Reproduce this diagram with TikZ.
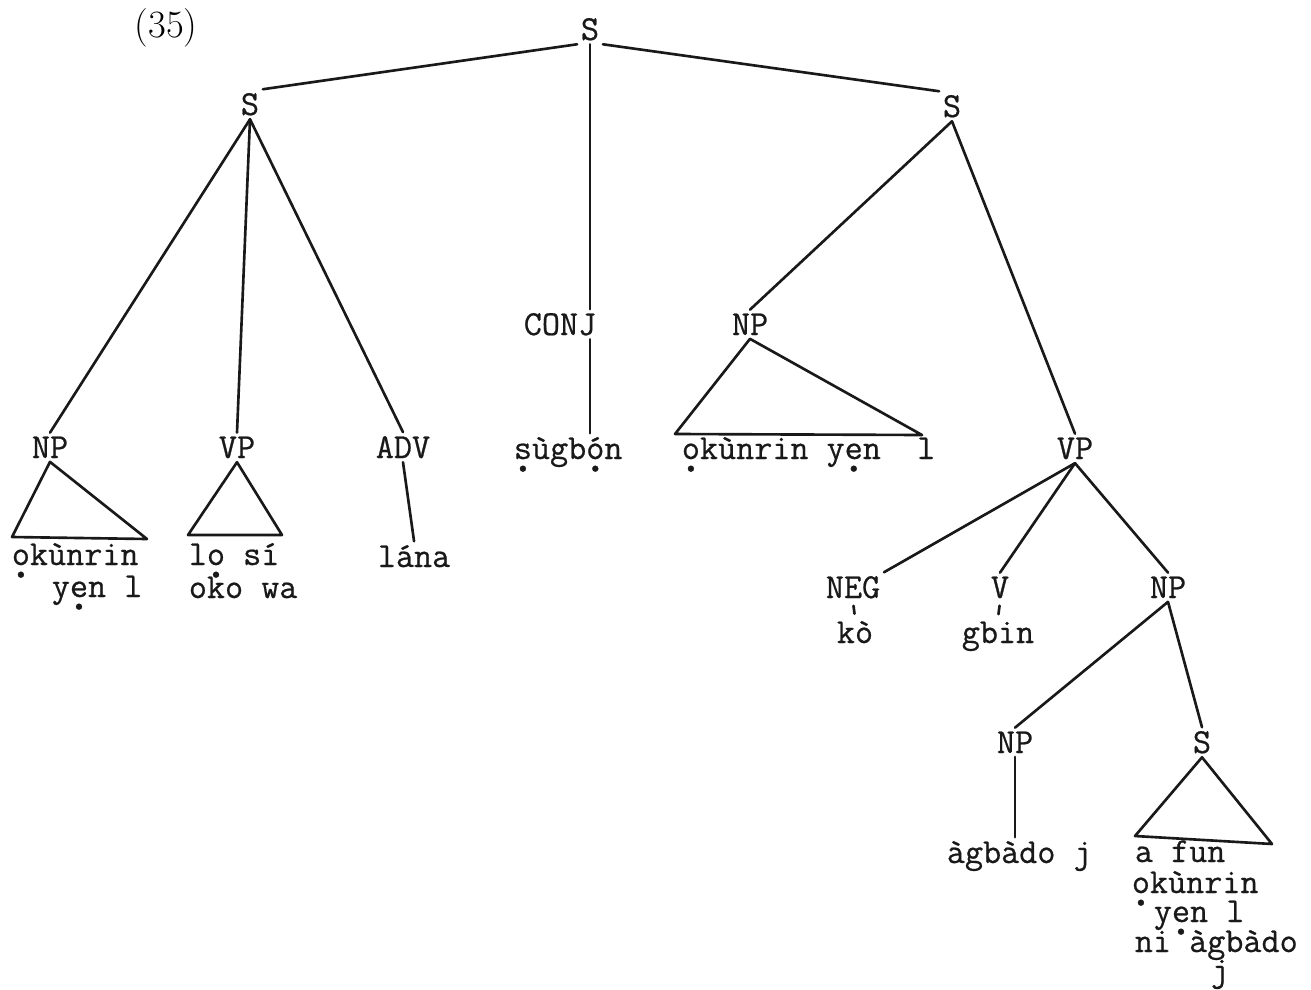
\documentclass[tikz,border=0pt]{standalone}
\usepackage{fontspec}
\newfontfamily\typed[FakeBold=0.6]{Latin Modern Mono}
% letter with a typed dot below it (Yoruba underdot)
\newcommand\ud[1]{\ooalign{#1\cr\hidewidth\raisebox{-0.36em}{\scalebox{1.5}{.}}\hidewidth}}
\begin{document}
\begin{tikzpicture}[x=0.02cm,y=-0.02cm,
  lab/.style={font=\typed\fontsize{20}{24}\selectfont, text=black!90, inner sep=2pt, anchor=base},
  leaf/.style={lab, anchor=base west},
  br/.style={line width=1.5pt, line cap=round, line join=round, black!90}]
\useasboundingbox[fill=white] (0,0) rectangle (1311,990);

% example number
\node[font=\rmfamily\fontsize{22}{26}\selectfont, anchor=base] (num) at (166,38) {(35)};

% category labels
\node[lab] (Stop) at (590,40) {S};
\node[lab] (Sl) at (250,115) {S};
\node[lab] (Sr) at (952,117) {S};
\node[lab] (conj) at (560,335) {CONJ};
\node[lab] (npb) at (750,335) {NP};
\node[lab] (npa) at (50,458) {NP};
\node[lab] (vpa) at (237,458) {VP};
\node[lab] (adv) at (403,458) {ADV};
\node[lab] (vpb) at (1075,459) {VP};
\node[lab] (neg) at (853,598) {NEG};
\node[lab] (v) at (1000,598) {V};
\node[lab] (npc) at (1168,598) {NP};
\node[lab] (npd) at (1015,753) {NP};
\node[lab] (sd) at (1202,753) {S};

% words
\node[leaf] (a1) at (8,565) {\ud{o}kùnrin};
\node[leaf] (a2) at (48,597) {y\ud{e}n l};
\node[leaf] (b1) at (185,565) {l\ud{o} sí};
\node[leaf] (b2) at (185,598) {oko wa};
\node[leaf] (lana) at (374,567) {lána};
\node[leaf] (sug) at (510,459) {\ud{s}ùgb\ud{ó}n};
\node[leaf] (okb) at (678,459) {\ud{o}kùnrin y\ud{e}n\ \ l};
\node[lab] (ko) at (855,643) {kò};
\node[lab] (gbin) at (998,643) {gbin};
\node[leaf] (agb) at (943,863) {àgbàdo j};
\node[leaf] (d1) at (1131,862) {a fun};
\node[leaf] (d2) at (1128,893) {\ud{o}kùnrin};
\node[leaf] (d3) at (1150,922) {y\ud{e}n l};
\node[leaf] (d4) at (1131,952) {ni àgbàdo};
\node[leaf] (d5) at (1207,981) {j};

% corners of the abbreviation triangles
\coordinate (ta1) at (12,537);
\coordinate (ta2) at (147,539);
\coordinate (tv1) at (188,535);
\coordinate (tv2) at (282,535);
\coordinate (tb1) at (675,434);
\coordinate (tb2) at (922,435);
\coordinate (ts1) at (1135,836);
\coordinate (ts2) at (1272,844);

% branches
\draw[br] (Stop.south west) -- (Sl.north east);
\draw[br] (Stop.south east) -- (Sr.north west);
\draw[br] (Stop.south) -- (Stop.south |- conj.north);
\draw[br] (conj.south -| Stop) -- (sug.north -| Stop);

\draw[br] (Sl.south) -- (npa.north);
\draw[br] (Sl.south) -- (vpa.north);
\draw[br] (Sl.south) -- (adv.north);
\draw[br] (npa.south) -- (ta1) -- (ta2) -- cycle;
\draw[br] (vpa.south) -- (tv1) -- (tv2) -- cycle;
\draw[br] (adv.south) -- (lana.north);

\draw[br] (Sr.south) -- (npb.north);
\draw[br] (Sr.south) -- (vpb.north);
\draw[br] (npb.south) -- (tb1) -- (tb2) -- cycle;

\draw[br] (vpb.south) -- (neg.north east);
\draw[br] (vpb.south) -- (v.north);
\draw[br] (vpb.south) -- (npc.north);
\draw[br, shorten <=2pt, shorten >=2pt] (neg.south) -- (ko.north);
\draw[br, shorten <=2pt, shorten >=2pt] (v.south) -- (gbin.north);

\draw[br] (npc.south) -- (npd.north);
\draw[br] (npc.south) -- (sd.north);
\draw[br] (npd.south) -- (npd.south |- agb.north);
\draw[br] (sd.south) -- (ts1) -- (ts2) -- cycle;
\end{tikzpicture}
\end{document}
